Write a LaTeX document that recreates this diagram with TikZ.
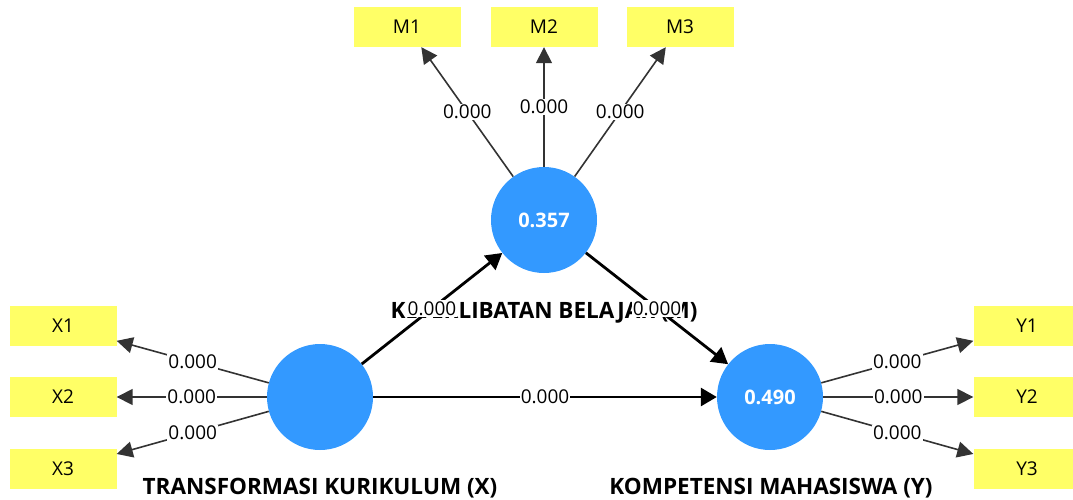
\documentclass[tikz,border=0pt]{standalone}
\usepackage{fontspec}
\setmainfont{Open Sans}
\usetikzlibrary{arrows.meta}
\definecolor{PlsBlue}{RGB}{51,153,255}
\definecolor{PlsYellow}{RGB}{255,255,102}

\begin{document}
\begin{tikzpicture}[x=1pt,y=-1pt,
  construct/.style={circle,fill=PlsBlue,minimum size=106pt,inner sep=0pt,text=white,font=\bfseries\fontsize{20}{24}\selectfont},
  indicator/.style={fill=PlsYellow,minimum width=107pt,minimum height=40pt,inner sep=0pt,font=\fontsize{19}{23}\selectfont},
  caption/.style={anchor=base,font=\bfseries\fontsize{22.5}{26}\selectfont},
  value/.style={fill=white,inner sep=1pt,font=\fontsize{19}{23}\selectfont},
  loading/.style={line width=1.6pt,draw=black!80,-{Triangle[length=16pt,width=16pt]}},
  structural/.style={line width=2.8pt,-{Triangle[length=16pt,width=18pt]}}]
%\draw[help lines] (0,0) grid (1073,499);
\useasboundingbox (0,0) rectangle (1073,499);
% constructs
\node[caption] (Mname) at (544,318) {KETERLIBATAN BELAJAR (M)};
\node[caption] (Xname) at (320,494) {TRANSFORMASI KURIKULUM (X)};
\node[caption] (Yname) at (771,494) {KOMPETENSI MAHASISWA (Y)};
\node[construct] (M) at (544,220) {0.357};
\node[construct] (X) at (320,397) {};
\node[construct] (Y) at (770,397) {0.490};
% indicators
\node[indicator] (M1) at (407,27) {M1};
\node[indicator] (M2) at (544,27) {M2};
\node[indicator] (M3) at (680,27) {M3};
\node[indicator] (X1) at (63,326) {X1};
\node[indicator] (X2) at (63,397) {X2};
\node[indicator] (X3) at (63,469) {X3};
\node[indicator] (Y1) at (1027,326) {Y1};
\node[indicator] (Y2) at (1027,397) {Y2};
\node[indicator] (Y3) at (1027,469) {Y3};
% loadings
\foreach \i in {1,2,3} {
  \draw[loading] (M) -- node[value] {0.000} (M\i);
  \draw[loading] (X) -- node[value] {0.000} (X\i);
  \draw[loading] (Y) -- node[value] {0.000} (Y\i);
}
% inner model
\draw[structural] (X) -- node[value] {0.000} (M);
\draw[structural] (M) -- node[value] {0.000} (Y);
\draw[structural] (X) -- node[value] {0.000} (Y);
\end{tikzpicture}
\end{document}
